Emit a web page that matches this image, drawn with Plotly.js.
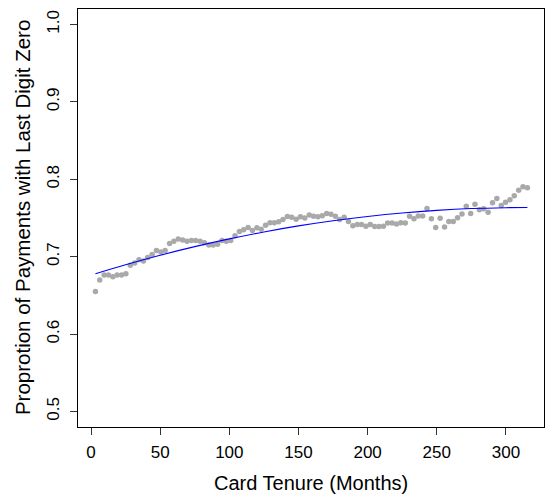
<!DOCTYPE html>
<html>
<head>
<meta charset="utf-8">
<script src="https://cdn.plot.ly/plotly-3.0.1.min.js"></script>
<style>
  html, body { margin: 0; padding: 0; background: #ffffff; }
  #chart { width: 545px; height: 497px; }
</style>
</head>
<body>
<div id="chart"></div>
<script>
// Card tenure in months for each observed group
const tenureMonths = [
  3.2, 6.3, 9.5, 12.6, 15.8, 18.9, 22.1, 25.2, 28.4, 31.6,
  34.7, 37.9, 41.0, 44.2, 47.3, 50.5, 53.6, 56.8, 59.9, 63.1,
  66.3, 69.4, 72.6, 75.7, 78.9, 82.0, 85.2, 88.3, 91.5, 94.7,
  97.8, 101.0, 104.1, 107.3, 110.4, 113.6, 116.7, 119.9, 123.0, 126.2,
  129.4, 132.5, 135.7, 138.8, 142.0, 145.1, 148.3, 151.4, 154.6, 157.8,
  160.9, 164.1, 167.2, 170.4, 173.5, 176.7, 179.8, 183.0, 186.1, 189.3,
  192.5, 195.6, 198.8, 201.9, 205.1, 208.2, 211.4, 214.5, 217.7, 220.9,
  224.0, 227.2, 230.3, 233.5, 236.6, 239.8, 242.9, 246.1, 249.2, 252.4,
  255.6, 258.7, 261.9, 265.0, 268.2, 271.3, 274.5, 277.6, 280.8, 283.9,
  287.1, 290.3, 293.4, 296.6, 299.7, 302.9, 306.0, 309.2, 312.3, 315.5
];

// Share of payments whose last digit is zero
const zeroShare = [
  0.655, 0.670, 0.6765, 0.6765, 0.674, 0.6765, 0.6765, 0.678, 0.689, 0.692,
  0.696, 0.6945, 0.699, 0.703, 0.708, 0.706, 0.708, 0.717, 0.720, 0.723,
  0.7215, 0.720, 0.721, 0.721, 0.720, 0.718, 0.715, 0.715, 0.716, 0.721,
  0.720, 0.721, 0.727, 0.7325, 0.7347, 0.7377, 0.7338, 0.7373, 0.7355, 0.7406,
  0.744, 0.744, 0.745, 0.748, 0.752, 0.751, 0.7484, 0.7515, 0.750, 0.754,
  0.7523, 0.7515, 0.753, 0.7558, 0.755, 0.7523, 0.748, 0.751, 0.7454, 0.740,
  0.7415, 0.7415, 0.7394, 0.7415, 0.739, 0.739, 0.7394, 0.7437, 0.7437, 0.7424,
  0.744, 0.7437, 0.7523, 0.749, 0.7527, 0.7527, 0.7622, 0.749, 0.7376, 0.7497,
  0.7385, 0.7454, 0.7454, 0.7502, 0.7553, 0.7652, 0.7557, 0.7678, 0.7605, 0.7618,
  0.7574, 0.7696, 0.7752, 0.7661, 0.7704, 0.7735, 0.7787, 0.786, 0.7903, 0.789
];

// Fitted trend, sampled along the tenure range
const fitTenure = [3.2, 25, 50, 75, 100, 125, 150, 175, 200, 225, 250, 275, 300, 315.5];
const fitShare  = [0.6781, 0.6897, 0.7019, 0.7130, 0.7230, 0.7320, 0.7398, 0.7465,
                   0.7520, 0.7565, 0.7599, 0.7622, 0.7633, 0.7635];

// Axis ticks
const xTicks = [0, 50, 100, 150, 200, 250, 300];
const yTicks = [0.5, 0.6, 0.7, 0.8, 0.9, 1.0];
const yTickText = ['0.5', '0.6', '0.7', '0.8', '0.9', '1.0'];

const font = 'Liberation Sans, Arial, Helvetica, sans-serif';

const traces = [
  {
    type: 'scatter',
    mode: 'markers',
    x: tenureMonths,
    y: zeroShare,
    marker: { color: '#a9a9a9', size: 5.5 },
    hoverinfo: 'x+y'
  },
  {
    type: 'scatter',
    mode: 'lines',
    x: fitTenure,
    y: fitShare,
    line: { color: '#0000ff', width: 1.1, shape: 'spline' },
    hoverinfo: 'x+y'
  }
];

const axisCommon = {
  showgrid: false,
  zeroline: false,
  showline: true,
  mirror: true,
  linecolor: '#000000',
  linewidth: 1,
  ticks: 'outside',
  ticklen: 7,
  tickwidth: 1,
  tickcolor: '#333333',
  tickfont: { family: font, size: 17, color: '#000000' },
  automargin: false,
  fixedrange: true
};

const layout = {
  width: 545,
  height: 497,
  margin: { l: 78, r: 1, t: 9, b: 70 },
  paper_bgcolor: '#ffffff',
  plot_bgcolor: '#ffffff',
  showlegend: false,
  xaxis: Object.assign({}, axisCommon, {
    range: [-9.4, 327.5],
    tickvals: xTicks,
    ticktext: xTicks.map(String),
    ticklabelstandoff: 3
  }),
  yaxis: Object.assign({}, axisCommon, {
    range: [0.48, 1.02],
    tickvals: yTicks,
    ticktext: yTickText,
    tickangle: -90,
    ticklabelstandoff: 4
  }),
  annotations: [
    {
      text: 'Card Tenure (Months)',
      xref: 'paper', yref: 'paper',
      x: 0.5, y: -0.134,
      xanchor: 'center', yanchor: 'middle',
      showarrow: false,
      font: { family: font, size: 20, color: '#000000' }
    },
    {
      text: 'Proprotion of Payments with Last Digit Zero',
      xref: 'paper', yref: 'paper',
      x: -0.12, y: 0.5,
      xanchor: 'center', yanchor: 'middle',
      textangle: -90,
      showarrow: false,
      font: { family: font, size: 20.5, color: '#000000' }
    }
  ]
};

Plotly.newPlot('chart', traces, layout, { displayModeBar: false, staticPlot: true });
</script>
</body>
</html>
